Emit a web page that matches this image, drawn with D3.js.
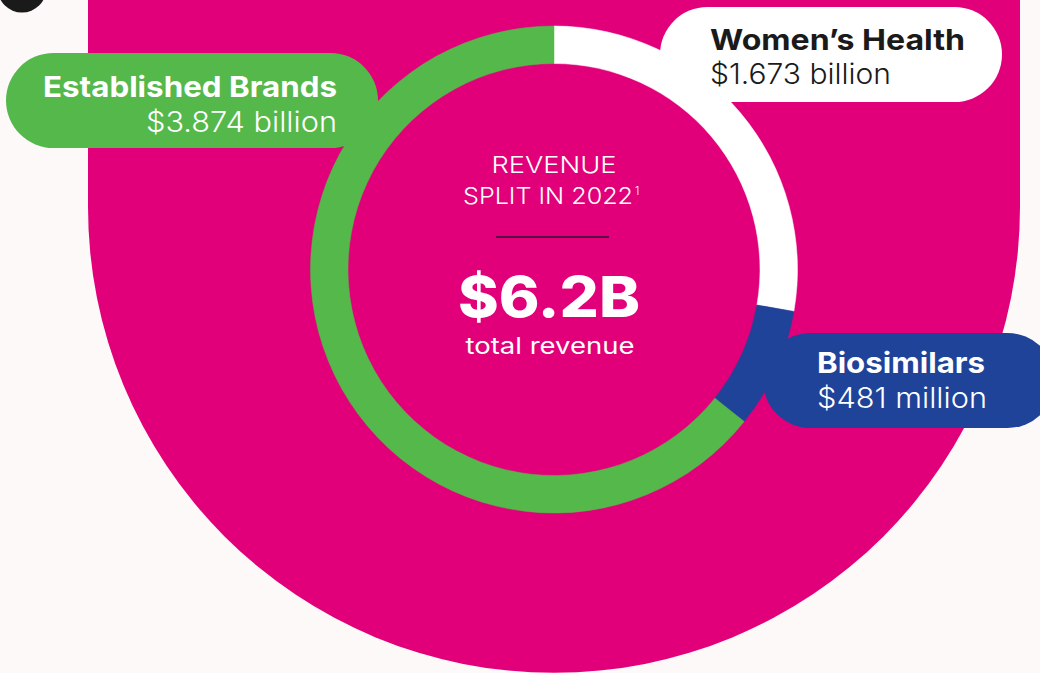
<!DOCTYPE html>
<html>
<head>
<meta charset="utf-8">
<script src="https://cdn.jsdelivr.net/npm/d3@7"></script>
<style>
	body{margin:0;background:#fdf9f8;}
	svg{display:block;font-family:Inter,'Open Sans',sans-serif;}
</style>
</head>
<body>
<svg class="chart"></svg>
<script>
var width = 1040,
	height = 673;

// data
var segments = ['Women\u2019s Health', 'Biosimilars', 'Established Brands'];
var revenue = [1.673, 0.481, 3.874];
var valueLabels = ['$1.673 billion', '$481 million', '$3.874 billion'];
var centerTitle = ['REVENUE', 'SPLIT IN 2022'];
var totalLabel = '$6.2B';

var colours = d3.scaleOrdinal()
			.domain(segments)
			.range(['#ffffff', '#1e4399', '#55b84a']);

var textColours = d3.scaleOrdinal()
			.domain(segments)
			.range(['#1a1a1a', '#ffffff', '#ffffff']);

var cx = 554,
	cy = 269.5,
	outerR = 243.5,
	innerR = 206;

var chart = d3.select('.chart')
			.attr('width', width)
			.attr('height', height)
			.attr('viewBox', '0 0 ' + width + ' ' + height);

chart.append('rect')
	.attr('width', width)
	.attr('height', height)
	.attr('fill', '#fdf9f8');

// little black dot top left
chart.append('circle')
	.attr('cx', 22)
	.attr('cy', -12)
	.attr('r', 24.5)
	.attr('fill', '#1a1a1a');

// magenta backdrop (rect + half circle)
chart.append('path')
	.attr('d', 'M88,0 L1020,0 L1020,207 A466,466 0 0 1 88,207 Z')
	.attr('fill', '#e2007a');

// Donut
var pie = d3.pie()
			.sort(null)
			.value(d => d.value);

var arcGen = d3.arc()
			.innerRadius(innerR)
			.outerRadius(outerR);

var pieData = pie(segments.map((s, i) => ({name: s, value: revenue[i]})));

var ring = chart.append('g')
			.attr('transform', 'translate(' + cx + ',' + cy + ')');

ring.selectAll('path')
	.data(pieData)
	.enter()
	.append('path')
	.attr('d', arcGen)
	.attr('fill', d => colours(d.data.name))
	.attr('stroke', d => colours(d.data.name))
	.attr('stroke-width', 0.5);

// Centre text
var centre = chart.append('g')
			.attr('transform', 'translate(' + cx + ',0)')
			.attr('fill', '#ffffff')
			.attr('text-anchor', 'middle');

centre.append('text')
	.attr('y', 173)
	.attr('font-size', 23)
	.attr('font-weight', 300)
	.attr('textLength', 125)
	.attr('lengthAdjust', 'spacingAndGlyphs')
	.text(centerTitle[0]);

centre.append('text')
	.attr('x', -6)
	.attr('y', 204)
	.attr('font-size', 23)
	.attr('font-weight', 300)
	.attr('textLength', 170)
	.attr('lengthAdjust', 'spacingAndGlyphs')
	.text(centerTitle[1]);

centre.append('text')
	.attr('x', 81)
	.attr('y', 195)
	.attr('text-anchor', 'start')
	.attr('font-size', 11)
	.attr('font-weight', 300)
	.text('1');

centre.append('line')
	.attr('x1', -58)
	.attr('x2', 55)
	.attr('y1', 237)
	.attr('y2', 237)
	.attr('stroke', '#5a0f48')
	.attr('stroke-width', 2);

centre.append('text')
	.attr('x', -5)
	.attr('y', 317)
	.attr('font-size', 56)
	.attr('font-weight', 800)
	.attr('textLength', 182)
	.attr('lengthAdjust', 'spacingAndGlyphs')
	.text(totalLabel);

centre.append('text')
	.attr('x', -4)
	.attr('y', 354)
	.attr('font-size', 23)
	.attr('font-weight', 400)
	.attr('textLength', 169)
	.attr('lengthAdjust', 'spacingAndGlyphs')
	.text('total revenue');

// Label pills
var pills = [
	{name: segments[2], x: 6, y: 53, w: 372, anchor: 'end', tx: 337, ty: [44, 79], tl: [294, 191]},
	{name: segments[0], x: 660, y: 7, w: 342, anchor: 'start', tx: 710, ty: [43, 77], tl: [255, 181]},
	{name: segments[1], x: 763, y: 333, w: 292, anchor: 'start', tx: 817, ty: [40, 75], tl: [168, 170]}
];

var pillGroups = chart.selectAll('.pill')
					.data(pills)
					.enter()
					.append('g')
					.attr('class', 'pill');

pillGroups.append('rect')
		.attr('x', d => d.x)
		.attr('y', d => d.y)
		.attr('width', d => d.w)
		.attr('height', 95)
		.attr('rx', 47.5)
		.attr('fill', d => colours(d.name));

pillGroups.append('text')
		.attr('x', d => d.tx)
		.attr('y', d => d.y + d.ty[0])
		.attr('text-anchor', d => d.anchor)
		.attr('font-size', 29)
		.attr('font-weight', 700)
		.attr('textLength', d => d.tl[0])
		.attr('lengthAdjust', 'spacingAndGlyphs')
		.attr('fill', d => textColours(d.name))
		.text(d => d.name);

pillGroups.append('text')
		.attr('x', d => d.tx)
		.attr('y', d => d.y + d.ty[1])
		.attr('text-anchor', d => d.anchor)
		.attr('font-size', 28)
		.attr('font-weight', 300)
		.attr('textLength', d => d.tl[1])
		.attr('lengthAdjust', 'spacingAndGlyphs')
		.attr('fill', d => textColours(d.name))
		.text(d => valueLabels[segments.indexOf(d.name)]);
</script>
</body>
</html>
